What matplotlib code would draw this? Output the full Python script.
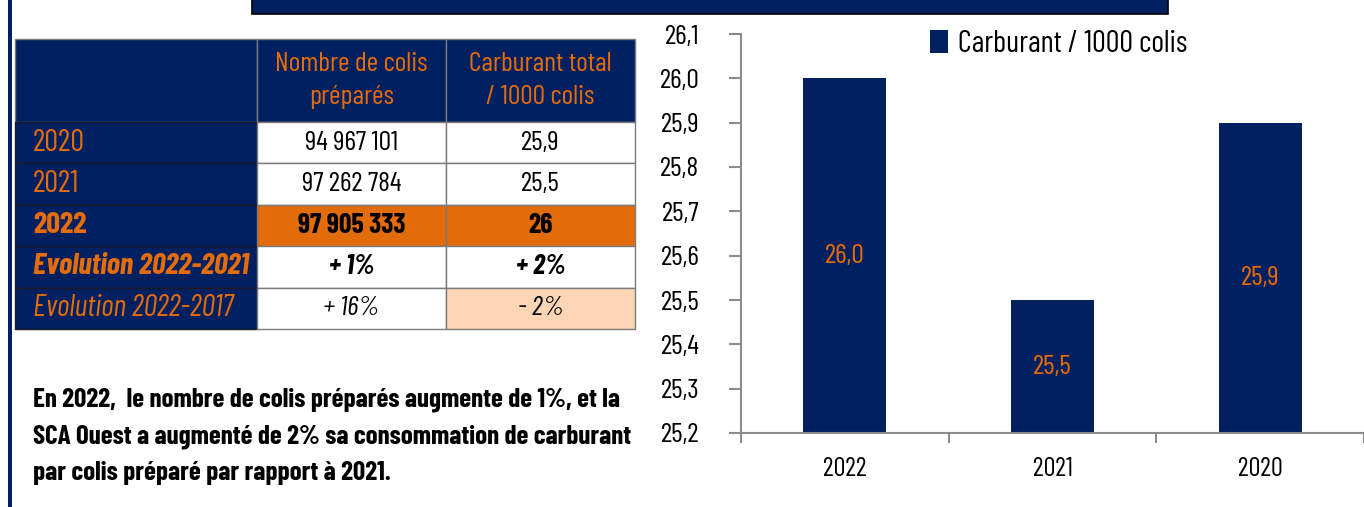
import matplotlib
matplotlib.use('Agg')
import matplotlib.pyplot as plt
from matplotlib import font_manager as fm
from matplotlib.patches import Rectangle
from matplotlib.ticker import FixedLocator, FuncFormatter
import numpy as np

W, H = 1364, 507

# Tableau récapitulatif
row_labels = ['2020', '2021', '2022', 'Evolution 2022-2021', 'Evolution 2022-2017']
col_headers = ['Nombre de colis\npréparés', 'Carburant total\n/ 1000 colis']
colis = ['94 967 101', '97 262 784', '97 905 333', '+ 1%', '+ 16%']
carburant = ['25,9', '25,5', '26', '+ 2%', '- 2%']

# Histogramme carburant / 1000 colis
annees = ['2022', '2021', '2020']
carb_1000 = [26.0, 25.5, 25.9]
serie = 'Carburant / 1000 colis'

commentaire = ("En 2022,  le nombre de colis préparés augmente de 1%, et la\n"
               "SCA Ouest a augmenté de 2% sa consommation de carburant\n"
               "par colis préparé par rapport à 2021.")

NAVY = '#002060'
ORANGE = '#E46C0A'
PEACH = '#FCD5B4'
GRID = '#7a7a7a'
AXIS = '#8c8c8c'

installed = {f.name for f in fm.fontManager.ttflist}
NARROW = next((n for n in ('Barlow Condensed', 'Roboto Condensed',
                           'Liberation Sans Narrow')
               if n in installed), 'DejaVu Sans')
plt.rcParams['font.family'] = [NARROW, 'DejaVu Sans']

fig = plt.figure(figsize=(W / 100, H / 100), dpi=100)

# liseré gauche et bandeau du titre
fig.add_artist(Rectangle((8 / W, 0), 4 / W, 1, transform=fig.transFigure,
                         color=NAVY, lw=0))
fig.add_artist(Rectangle((252 / W, 1 - 14 / H), 916 / W, 20 / H,
                         transform=fig.transFigure, facecolor=NAVY,
                         edgecolor='black', lw=1.2))

# ---- tableau ----
tax = fig.add_axes([15 / W, 1 - 329 / H, 620 / W, 290 / H])
tax.axis('off')
cells = [[lab, a, b] for lab, a, b in zip(row_labels, colis, carburant)]
tab = tax.table(cellText=cells, colLabels=[''] + col_headers,
                cellLoc='center', bbox=[0, 0, 1, 1])
tab.auto_set_font_size(False)
widths = [0.39, 0.305, 0.305]
for (r, c), cell in tab.get_celld().items():
    cell.set_width(widths[c])
    cell.set_height(2.0 if r == 0 else 1.0)
    cell.set_edgecolor(GRID)
    cell.set_linewidth(1)
    txt = cell.get_text()
    txt.set_fontsize(20)
    if r == 0:
        cell.set_facecolor(NAVY)
        txt.set_color(ORANGE)
        txt.set_linespacing(1.5)
        continue
    if c == 0:
        cell.set_facecolor(NAVY)
        cell.set_edgecolor('#1a1a2a')
        txt.set_color(ORANGE)
        txt.set_fontsize(22)
        txt.set_ha('left')
        cell._loc = 'left'
        cell.PAD = 0.075
    else:
        cell.set_facecolor('white')
        txt.set_color('black')
    if r == 3:
        txt.set_fontweight('bold')
        if c > 0:
            cell.set_facecolor('#E26B0A')
    elif r == 4:
        txt.set_fontweight('bold')
        txt.set_fontstyle('italic')
    elif r == 5:
        txt.set_fontstyle('italic')
        if c == 2:
            cell.set_facecolor(PEACH)

fig.text(33 / W, 1 - 480 / H, commentaire, fontsize=19.5, fontweight='bold',
         va='baseline', ha='left', linespacing=1.64, color='black')

# ---- histogramme ----
ax = fig.add_axes([741 / W, 1 - 433 / H, (W - 741) / W, 399 / H])
x = np.arange(len(annees))
bars = ax.bar(x, carb_1000, width=0.4, color=NAVY, label=serie)
ax.set_xlim(-0.5, len(annees) - 0.5)
ax.set_ylim(25.2, 26.1)

fmt = lambda v, _: f'{v:.1f}'.replace('.', ',')
ax.yaxis.set_major_locator(FixedLocator(np.round(np.arange(25.2, 26.15, 0.1), 1)))
ax.yaxis.set_major_formatter(FuncFormatter(fmt))
ax.set_xticks(x, annees)
ax.set_xticks(np.arange(-0.5, len(annees)), minor=True)
ax.tick_params(axis='x', which='major', length=0, pad=17, labelsize=19)
ax.tick_params(axis='x', which='minor', length=7, width=1.5, color=AXIS)
ax.tick_params(axis='y', length=9, width=1.5, color=AXIS, pad=21,
               labelsize=20)
for s in ('top', 'right'):
    ax.spines[s].set_visible(False)
for s in ('left', 'bottom'):
    ax.spines[s].set_color(AXIS)
    ax.spines[s].set_linewidth(1.5)
ax.set_facecolor('none')

ax.bar_label(bars, labels=[fmt(v, None) for v in carb_1000], label_type='center',
             color=ORANGE, fontsize=20)

ax.legend(loc='upper left', bbox_to_anchor=((930 - 741) / (W - 741), 1.0 + 4 / 399),
          frameon=False, fontsize=22, handlelength=0.6, handleheight=0.75,
          handletextpad=0.3, borderaxespad=0, borderpad=0)

fig.savefig('out.png', dpi=100)
